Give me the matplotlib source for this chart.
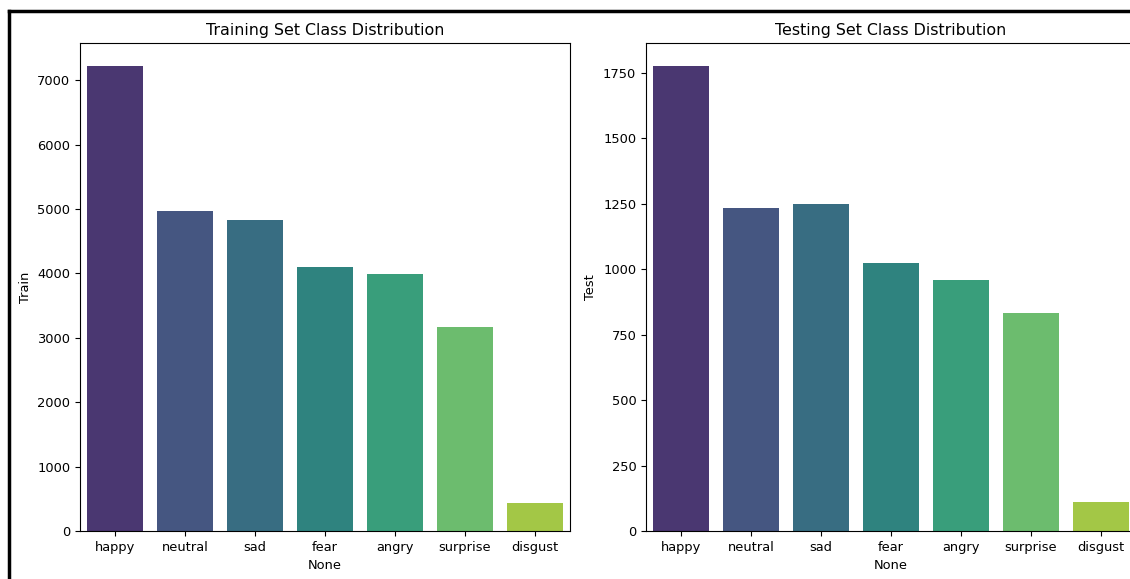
"""Train / test class distribution bar charts (FER-style emotion labels)."""
import matplotlib

matplotlib.use("Agg")
import matplotlib.pyplot as plt
import pandas as pd
import seaborn as sns
from matplotlib.lines import Line2D

classes = ["happy", "neutral", "sad", "fear", "angry", "surprise", "disgust"]
train_counts = [7215, 4965, 4830, 4097, 3995, 3171, 436]
test_counts = [1774, 1233, 1247, 1024, 958, 831, 111]

train_df = pd.DataFrame({"Train": train_counts}, index=pd.Index(classes, name=None))
test_df = pd.DataFrame({"Test": test_counts}, index=pd.Index(classes, name=None))

# the source is a slightly downscaled screenshot, so text is a touch smaller
plt.rcParams["font.size"] = 9.4

fig = plt.figure(figsize=(11.3, 5.79), dpi=100)
ax1 = fig.add_axes([0.0708, 0.0829, 0.4336, 0.8428])
ax2 = fig.add_axes([0.5717, 0.0829, 0.4336, 0.8428])

for ax, df, col, title in [
    (ax1, train_df, "Train", "Training Set Class Distribution"),
    (ax2, test_df, "Test", "Testing Set Class Distribution"),
]:
    sns.barplot(x=df.index, y=df[col], hue=df.index, palette="viridis",
                legend=False, ax=ax)
    ax.set_title(title, fontsize=11.4)
    ax.set_xlabel("None")
    ax.set_ylabel(col)
    ax.tick_params(labelsize=9.4)

# screenshot frame (top and left edges only)
fig.add_artist(Line2D([0.0080, 1.0], [0.9810, 0.9810], transform=fig.transFigure,
                      color="black", lw=2.5))
fig.add_artist(Line2D([0.0080, 0.0080], [0.0, 0.9810], transform=fig.transFigure,
                      color="black", lw=2.5))

fig.savefig("out.png", dpi=100)
